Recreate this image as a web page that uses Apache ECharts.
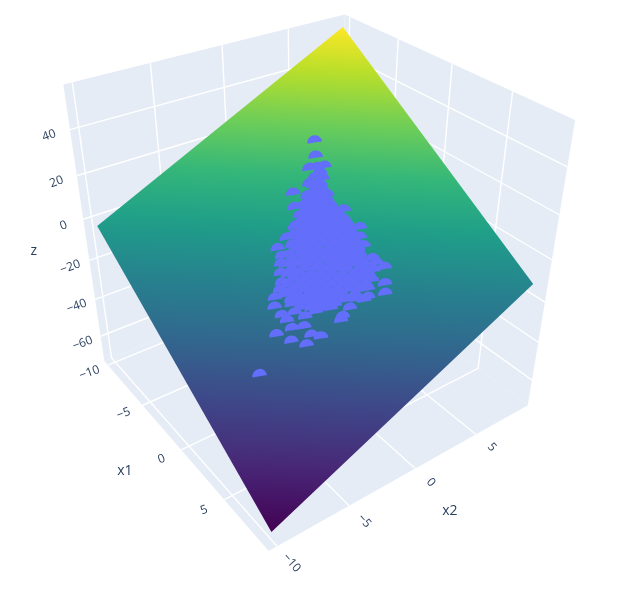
<!DOCTYPE html><html><head><meta charset="utf-8"><script src="https://cdn.jsdelivr.net/npm/echarts@6/dist/echarts.min.js"></script></head><body style="margin:0;background:#fff"><div id="c" style="width:633px;height:605px"></div>
<script>
// Tick labels
const x1Ticks=[-10,-5,0,5];
const x2Ticks=[-10,-5,0,5];
const zTicks=[-60,-40,-20,0,20,40];
// Scene ranges
const x1Range=[-10.55,9.6];
const x2Range=[-10.55,9.6];
const zRange=[-74,58.5];
// Surface (plane) corners
const surfaceX1=[-9.95,9.0];
const surfaceX2=[-9.95,9.0];
const surfaceZ=[[-2.7,54.8],[-70.3,-11.9]];
// Scatter points
const x1Values=[-5.4,-4.6,-4.3,-3.8,-3.7,-3.3,-3.6,-3.8,-2.4,-2.9,-3.1,-1.1,0.3,-2.2,0.7,1.2,-1.5,-1.9,-1.1,-0.7,2.9,3.6,4.0,2.1,2.4,3.2,3.5,3.3,3.5,3.4,0.1,0.5,1.1,1.5,0.3,2.4,2.0,3.0,3.4,1.7,2.5,3.2,2.7,2.2,2.6,
-3.4,-3.1,-3.1,-2.8,-3.1,-2.7,-2.5,-2.7,-2.3,-2.2,-2.8,-2.4,-2.0,-1.8,-2.5,-2.1,-1.6,-1.5,-2.5,-2.1,-1.7,-1.3,-1.1,-2.2,-1.8,-1.3,-0.9,-0.7,-2.2,-1.8,-1.4,-1.0,-0.5,-0.3,-1.8,-1.4,-1.0,-0.6,-0.1,0.0,-1.9,-1.5,-1.0,-0.6,-0.2,0.2,0.3,-1.5,-1.1,-0.7,-0.2,0.2,0.6,-1.5,-1.1,-0.7,-0.3,0.1,0.6,0.9,-1.2,-0.8,-0.3,0.1,0.5,0.9,1.2,-1.2,-0.8,-0.4,0.0,0.5,0.9,1.3,1.5,-0.8,-0.4,0.0,0.4,0.8,1.2,1.6,1.8,-0.9,-0.5,-0.1,0.4,0.8,1.2,1.6,2.0,-0.4,0.0,0.4,0.8,1.2,1.6,2.1,2.3,-0.4,0.0,0.5,0.9,1.3,1.7,2.1,2.5,2.6,0.0,0.5,0.9,1.3,1.7,2.1,2.5,2.8,0.1,0.5,0.9,1.3,1.7,2.1,2.5,3.0,0.5,0.9,1.3,1.7,2.1,2.5,2.9,0.4,0.8,1.3,1.7,2.1,2.5,3.0,0.8,1.2,1.6,2.0,2.4,2.8,1.0,1.5,1.9,2.3,2.6,1.5,1.9,2.3,
-4.0,-3.7,3.56,3.24,2.96,2.62,2.4,-1.4,-0.26,-0.04,1.48,2.03,-2.02];
const x2Values=[3.4,2.9,2.2,3.0,2.6,2.5,1.7,0.6,2.2,1.2,0.2,2.5,2.7,-0.4,2.4,2.3,-1.1,-1.9,-2.2,-2.5,2.6,2.1,1.8,2.3,1.7,1.1,0.6,-0.3,-1.1,-0.9,-3.5,-3.8,-3.7,-3.6,-2.9,-3.0,-3.6,-2.9,-2.5,-4.5,-4.0,-3.4,-6.4,-2.0,-1.2,
1.8,2.2,1.8,2.1,1.2,1.8,2.0,1.3,1.8,2.0,0.7,1.3,1.8,2.0,0.7,1.3,1.8,2.0,0.2,0.8,1.3,1.8,2.1,0.2,0.8,1.3,1.9,2.2,-0.3,0.3,0.8,1.3,1.9,2.2,-0.2,0.3,0.9,1.4,1.9,2.1,-0.7,-0.2,0.3,0.9,1.4,1.9,2.1,-0.6,-0.1,0.4,0.9,1.5,2.0,-1.1,-0.6,-0.1,0.5,1.0,1.5,1.9,-1.1,-0.6,-0.1,0.5,1.0,1.5,1.9,-1.6,-1.0,-0.5,0.0,0.5,1.0,1.6,1.8,-1.6,-1.0,-0.5,0.0,0.5,1.1,1.6,1.7,-2.0,-1.5,-1.0,-0.5,0.1,0.6,1.1,1.7,-1.9,-1.3,-0.8,-0.3,0.2,0.7,1.3,1.6,-2.2,-1.7,-1.2,-0.7,-0.2,0.3,0.9,1.4,1.6,-2.1,-1.6,-1.1,-0.6,0.0,0.5,1.0,1.4,-2.5,-2.0,-1.5,-1.0,-0.5,0.1,0.6,1.1,-2.4,-1.9,-1.4,-0.9,-0.3,0.2,0.7,-2.9,-2.4,-1.8,-1.3,-0.8,-0.3,0.3,-2.8,-2.3,-1.8,-1.3,-0.8,-0.3,-2.9,-2.4,-1.9,-1.4,-0.9,-2.6,-2.1,-1.6,
2.6,2.2,0.86,0.28,1.59,1.98,2.36,-1.94,-2.73,-3.03,-3.02,-2.66,-1.14];
const zValues=[21.6,17.7,14.3,15.0,13.0,11.8,10.1,7.5,7.4,6.4,3.8,3.8,-0.5,-1.2,-3.0,-5.1,-5.7,-6.7,-10.4,-12.8,-10.2,-14.1,-16.4,-8.1,-11.3,-15.4,-18.3,-20.4,-23.3,-22.4,-19.0,-21.0,-23.0,-24.2,-17.6,-25.3,-26.0,-27.2,-27.6,-27.6,-28.9,-29.6,-37.0,-21.7,-20.7,
9.8,9.9,8.5,8.6,7.1,7.3,7.3,5.9,6.0,6.1,4.5,4.6,4.8,4.8,3.3,3.4,3.5,3.6,1.9,2.0,2.2,2.3,2.3,0.7,0.8,0.9,1.0,1.1,-0.7,-0.6,-0.4,-0.3,-0.2,-0.1,-1.9,-1.8,-1.6,-1.5,-1.4,-1.3,-3.2,-3.1,-3.0,-2.9,-2.7,-2.6,-2.6,-4.5,-4.3,-4.2,-4.1,-3.9,-3.8,-5.8,-5.7,-5.5,-5.4,-5.3,-5.1,-5.0,-7.0,-6.9,-6.7,-6.6,-6.5,-6.3,-6.3,-8.3,-8.2,-8.0,-7.9,-7.8,-7.7,-7.5,-7.5,-9.5,-9.4,-9.2,-9.1,-9.0,-8.9,-8.7,-8.7,-10.8,-10.7,-10.6,-10.4,-10.3,-10.2,-10.0,-9.9,-12.0,-11.8,-11.7,-11.6,-11.4,-11.3,-11.2,-11.1,-13.2,-13.1,-13.0,-12.8,-12.7,-12.6,-12.5,-12.3,-12.3,-14.4,-14.3,-14.1,-14.0,-13.9,-13.7,-13.6,-13.5,-15.7,-15.5,-15.4,-15.3,-15.1,-15.0,-14.9,-14.7,-16.8,-16.7,-16.6,-16.4,-16.3,-16.2,-16.0,-18.1,-18.0,-17.8,-17.7,-17.6,-17.4,-17.3,-19.3,-19.1,-19.0,-18.9,-18.7,-18.6,-20.4,-20.3,-20.2,-20.0,-19.9,-21.0,-20.9,-20.8,
14.7,11.7,-17.4,-18.0,-13.45,-11.0,-9.3,-8.6,-15.1,-17.0,-22.1,-23.0,-4.0];
const viridis=['#440154','#482878','#3e4989','#31688e','#26828e','#1f9e89','#35b779','#6ece58','#b5de2b','#fde725'];
// Perspective camera fitted to the picture (maps x1,x2,z to the flat screen axes)
const cam=[6.237704,16.11434,-0.4429931,321.6517,4.482125,-3.177452,-2.495165,239.8449,-0.01133487,0.008371931,-0.001439491];
const prj=(x,y,z)=>{const w=cam[8]*x+cam[9]*y+cam[10]*z+1;return[(cam[0]*x+cam[1]*y+cam[2]*z+cam[3])/w,(cam[4]*x+cam[5]*y+cam[6]*z+cam[7])/w];};
const [a,b]=x1Range,[zb,zt]=zRange;
const INK='#2a3f5f',WALL='#e5ecf6',GRID='#ffffff',FONT='"Open Sans"',MARK='#636efa';
const chart=echarts.init(document.getElementById('c'),null,{renderer:'canvas'});
const pt=(api,x,y,z)=>api.coord(prj(x,y,z));
const poly=(api,l,fill)=>({type:'polygon',shape:{points:l.map(q=>pt(api,...q))},style:{fill}});
const line=(api,p,q)=>{const u=pt(api,...p),v=pt(api,...q);return{type:'line',shape:{x1:u[0],y1:u[1],x2:v[0],y2:v[1]},style:{stroke:GRID,lineWidth:1.4}};};
const mix=(h1,h2,f)=>{const g=h=>[1,3,5].map(i=>parseInt(h.substr(i,2),16));const p=g(h1),q=g(h2);return 'rgb('+p.map((v,i)=>Math.round(v+(q[i]-v)*f)).join(',')+')';};
const vir=t=>{t=Math.max(0,Math.min(1,t))*9;const i=Math.min(8,Math.floor(t));return mix(viridis[i],viridis[i+1],t-i);};
const box={type:'custom',coordinateSystem:'cartesian2d',silent:true,clip:false,data:[[0,0]],z:1,renderItem(p,api){const ch=[
 poly(api,[[a,a,zb],[b,a,zb],[b,b,zb],[a,b,zb]],WALL),poly(api,[[a,a,zb],[a,b,zb],[a,b,zt],[a,a,zt]],WALL),poly(api,[[a,b,zb],[b,b,zb],[b,b,zt],[a,b,zt]],WALL)];
 x1Ticks.forEach(t=>{ch.push(line(api,[t,a,zb],[t,b,zb]),line(api,[t,b,zb],[t,b,zt]));});
 x2Ticks.forEach(t=>{ch.push(line(api,[a,t,zb],[b,t,zb]),line(api,[a,t,zb],[a,t,zt]));});
 zTicks.forEach(t=>{ch.push(line(api,[a,a,t],[a,b,t]),line(api,[a,b,t],[b,b,t]));});
 return {type:'group',children:ch};}};
const surface={type:'custom',coordinateSystem:'cartesian2d',silent:true,clip:false,data:[[0,0]],z:2,renderItem(p,api){
 const [s,e]=surfaceX1,[f,g]=surfaceX2,zl=surfaceZ[0][0],zr=surfaceZ[1][1],zb2=surfaceZ[1][0],zt2=surfaceZ[0][1];
 const P=[[s,f,zl],[s,g,zt2],[e,g,zr],[e,f,zb2]];const scr=P.map(q=>pt(api,...q));
 const bot=P[3],top=P[1];const at=k=>bot.map((v,i)=>v+(top[i]-v)*k);
 const sl=(zl-zb2)/(zt2-zb2);const dp=pt(api,...at(sl));const iso=[scr[0][0]-dp[0],scr[0][1]-dp[1]];
 let n=[iso[1],-iso[0]];const ln=Math.hypot(...n);n=[n[0]/ln,n[1]/ln];
 if((scr[1][0]-scr[3][0])*n[0]+(scr[1][1]-scr[3][1])*n[1]<0)n=[-n[0],-n[1]];
 const L=(scr[1][0]-scr[3][0])*n[0]+(scr[1][1]-scr[3][1])*n[1];
 const stops=[];for(let i=0;i<=30;i++){const k=i/30,q=pt(api,...at(k));stops.push({offset:Math.max(0,Math.min(1,((q[0]-scr[3][0])*n[0]+(q[1]-scr[3][1])*n[1])/L)),color:vir(k)});}
 const grad=new echarts.graphic.LinearGradient(scr[3][0],scr[3][1],scr[3][0]+n[0]*L,scr[3][1]+n[1]*L,stops,true);
 return {type:'polygon',shape:{points:scr},style:{fill:grad}};}};
const markers={type:'custom',coordinateSystem:'cartesian2d',silent:true,clip:false,z:3,data:x1Values.map((v,i)=>[v,x2Values[i],zValues[i]]),renderItem(p,api){
 const q=pt(api,api.value(0),api.value(1),api.value(2));return {type:'sector',shape:{cx:q[0],cy:q[1],r:7.4,r0:0,startAngle:Math.PI-0.16,endAngle:2*Math.PI-0.16,clockwise:true},style:{fill:MARK}};}};
const tx=(api,text,q,rot,size)=>{const c=pt(api,...q);return {type:'text',x:c[0],y:c[1],rotation:rot*Math.PI/180,style:{text,font:size+'px '+FONT,fill:INK,align:'center',verticalAlign:'middle'}};};
const fmt=t=>String(t).replace('-','\u2212');
const labels={type:'custom',coordinateSystem:'cartesian2d',silent:true,clip:false,data:[[0,0]],z:4,renderItem(p,api){const ch=[];
 x1Ticks.forEach(t=>ch.push(tx(api,fmt(t),[t,a-1.35,zb],20,12)));
 x2Ticks.forEach(t=>ch.push(tx(api,fmt(t),[b+1.4,t,zb],-48,12)));
 zTicks.forEach(t=>ch.push(tx(api,fmt(t),[a,a-1.3,t],20,12)));
 ch.push(tx(api,'x1',[-0.4,a-3.6,zb],0,14),tx(api,'x2',[b+3.7,-0.6,zb],0,14),tx(api,'z',[a,a-3.4,-7],0,14));
 return {type:'group',children:ch};}};
chart.setOption({animation:false,grid:{left:0,right:0,top:0,bottom:0},xAxis:{type:'value',min:0,max:633,show:false},yAxis:{type:'value',min:0,max:605,inverse:true,show:false},series:[box,surface,markers,labels]});
</script></body></html>
